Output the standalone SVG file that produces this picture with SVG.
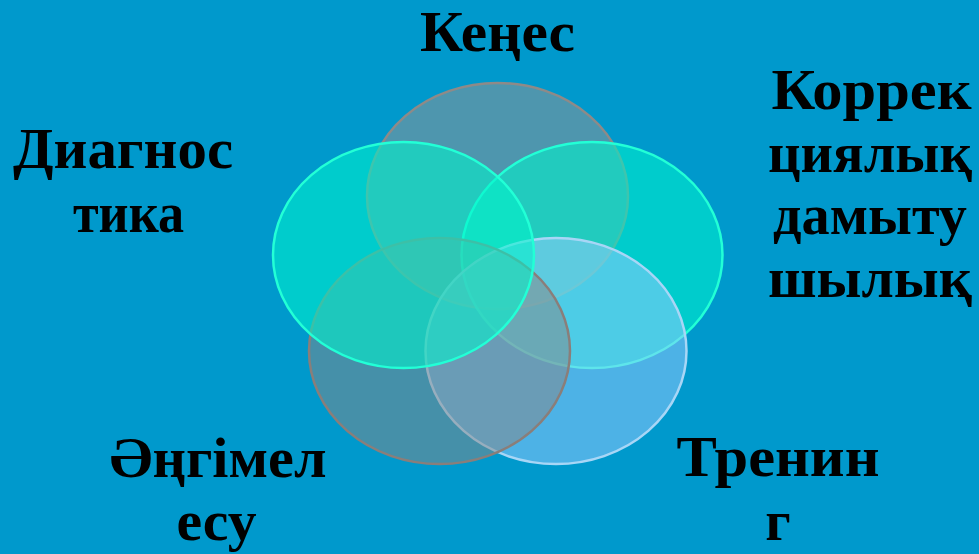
<svg xmlns="http://www.w3.org/2000/svg" width="979" height="554" viewBox="0 0 979 554">
<style>
.lbl{font-family:"Liberation Serif","Times New Roman",serif;font-weight:bold;font-size:56px;fill:#000;text-anchor:middle}
.e{stroke-width:2.5}
</style>
<rect x="0" y="0" width="979" height="554" fill="#0099CC"/>
<g id="venn">
<g id="n-kenes"><ellipse class="e" cx="497.5" cy="196" rx="130.5" ry="113" fill="#939393" fill-opacity="0.53" stroke="#8E8A88"/></g>
<g id="n-korrek"><ellipse class="e" cx="592" cy="255" rx="130.5" ry="113" fill="#00F4CC" fill-opacity="0.56" stroke="#22FFD6"/></g>
<g id="n-trening"><ellipse class="e" cx="556" cy="351" rx="130.5" ry="113" fill="#99CCFF" fill-opacity="0.5" stroke="#A8D6F6"/></g>
<g id="n-angimelesu"><ellipse class="e" cx="439.5" cy="351" rx="130.5" ry="113" fill="#878787" fill-opacity="0.51" stroke="#8A7E7A"/></g>
<g id="n-diagnostika"><ellipse class="e" cx="403.5" cy="255" rx="130.5" ry="113" fill="#00F4CC" fill-opacity="0.56" stroke="#22FFD6"/></g>
</g>
<g id="connectors"/>
<g id="labels">
<text class="lbl" x="497.5" y="51" textLength="155" lengthAdjust="spacingAndGlyphs">Кеңес</text>
<text class="lbl" x="871.5" y="109" textLength="200" lengthAdjust="spacingAndGlyphs">Коррек</text>
<text class="lbl" x="870" y="172" textLength="204" lengthAdjust="spacingAndGlyphs">циялық</text>
<text class="lbl" x="870" y="234" textLength="194" lengthAdjust="spacingAndGlyphs">дамыту</text>
<text class="lbl" x="870" y="297" textLength="204" lengthAdjust="spacingAndGlyphs">шылық</text>
<text class="lbl" x="123" y="168" textLength="220" lengthAdjust="spacingAndGlyphs">Диагнос</text>
<text class="lbl" x="128.5" y="232" textLength="111" lengthAdjust="spacingAndGlyphs">тика</text>
<text class="lbl" x="218" y="477" textLength="217" lengthAdjust="spacingAndGlyphs">Әңгімел</text>
<text class="lbl" x="216.5" y="540" textLength="80" lengthAdjust="spacingAndGlyphs">есу</text>
<text class="lbl" x="778" y="476" textLength="203" lengthAdjust="spacingAndGlyphs">Тренин</text>
<text class="lbl" x="778" y="540">г</text>
</g>
</svg>
